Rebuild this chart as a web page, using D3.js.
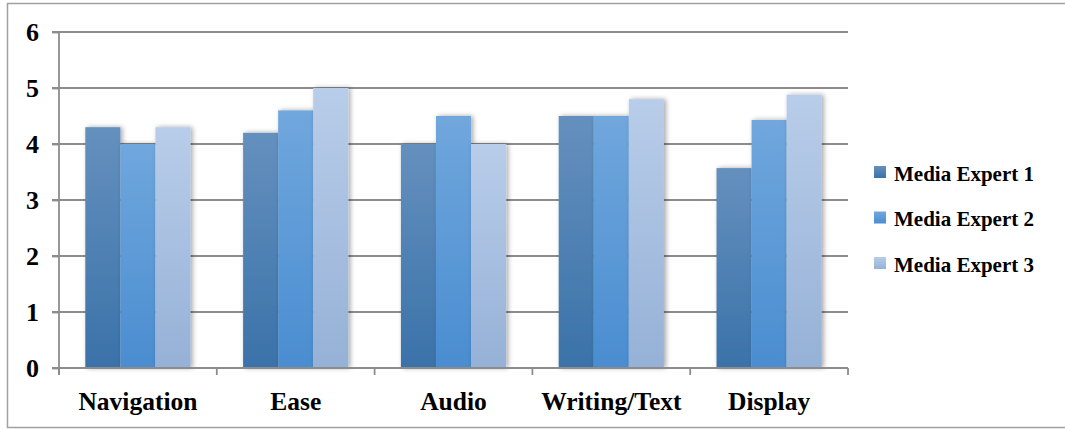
<!DOCTYPE html>
<html><head><meta charset="utf-8">
<script src="https://cdn.jsdelivr.net/npm/d3@7"></script>
<style>body{margin:0;background:#fff}svg{display:block}</style>
</head><body>
<script>
const categories = ["Navigation", "Ease", "Audio", "Writing/Text", "Display"];
const seriesNames = ["Media Expert 1", "Media Expert 2", "Media Expert 3"];
const expert1 = [4.3, 4.2, 4.0, 4.5, 3.57];
const expert2 = [4.0, 4.6, 4.5, 4.5, 4.43];
const expert3 = [4.3, 5.0, 4.0, 4.8, 4.88];
const yTicks = [0, 1, 2, 3, 4, 5, 6];

const series = [expert1, expert2, expert3];
const W = 1065, H = 429;
const FONT = "'Liberation Serif', 'Times New Roman', serif";
const svg = d3.select("body").append("svg").attr("width", W).attr("height", H);
const defs = svg.append("defs");
const grads = [["#6590be", "#3a72a9"], ["#70a7dd", "#4a8dd0"], ["#b8cde9", "#96b1d7"]];
grads.forEach((g, i) => {
  const lg = defs.append("linearGradient").attr("id", "g" + i).attr("x1", 0).attr("y1", 0).attr("x2", 0).attr("y2", 1);
  lg.append("stop").attr("offset", 0).attr("stop-color", g[0]);
  lg.append("stop").attr("offset", 1).attr("stop-color", g[1]);
});
const f = defs.append("filter").attr("id", "sh").attr("x", "-30%").attr("y", "-10%").attr("width", "160%").attr("height", "120%");
f.append("feDropShadow").attr("dx", 2).attr("dy", 0).attr("stdDeviation", 2.5).attr("flood-color", "#000").attr("flood-opacity", 0.35);

// outer border
svg.append("rect").attr("x", 7.5).attr("y", 3.5).attr("width", W + 10).attr("height", 424)
  .attr("fill", "none").attr("stroke", "#a0a0a0").attr("stroke-width", 1.5);

const pL = 59, pR = 848, pT = 32, pB = 368;
const x = d3.scaleBand().domain(categories).range([pL, pR]).paddingInner(0).paddingOuter(0);
const y = d3.scaleLinear().domain([0, 6]).range([pB, pT]);
const xs = d3.scaleBand().domain(seriesNames).range([0, x.bandwidth()]).paddingInner(0).paddingOuter(0.75);

// gridlines
svg.append("g").selectAll("line").data(yTicks.filter(t => t > 0)).join("line")
  .attr("x1", pL - 7).attr("x2", pR).attr("y1", d => y(d)).attr("y2", d => y(d))
  .attr("stroke", "#8c8c8c").attr("stroke-width", 1.8);

// bars
const gBars = svg.append("g");
categories.forEach((c, ci) => {
  series.forEach((s, si) => {
    gBars.append("rect")
      .attr("x", x(c) + xs(seriesNames[si]))
      .attr("y", y(s[ci]))
      .attr("width", xs.bandwidth())
      .attr("height", y(0) - y(s[ci]))
      .attr("fill", `url(#g${si})`)
      .attr("filter", "url(#sh)");
  });
});

// axes
const ya = svg.append("g").attr("transform", `translate(${pL},0)`)
  .call(d3.axisLeft(y).tickValues(yTicks).tickSize(7).tickPadding(13).tickFormat(d3.format("d")));
ya.select(".domain").attr("stroke", "#8c8c8c").attr("stroke-width", 1.8).attr("d", `M0,${pT}V${pB + 7}`);
ya.selectAll(".tick line").attr("stroke", "#8c8c8c").attr("stroke-width", 1.8);
ya.selectAll("text").attr("font-family", FONT).attr("font-weight", "bold").attr("font-size", 26).attr("fill", "#000");

const xa = svg.append("g").attr("transform", `translate(0,${pB})`)
  .call(d3.axisBottom(x).tickSize(0).tickPadding(24));
xa.select(".domain").remove();
xa.selectAll("text").attr("font-family", FONT).attr("font-weight", "bold").attr("font-size", 25.5).attr("fill", "#000");
const bounds = d3.range(categories.length + 1).map(i => pL + i * x.step());
xa.append("line").attr("x1", pL - 7).attr("x2", pR).attr("y1", 0).attr("y2", 0).attr("stroke", "#8c8c8c").attr("stroke-width", 1.8);
xa.selectAll(".bt").data(bounds).join("line").attr("class", "bt")
  .attr("x1", d => d).attr("x2", d => d).attr("y1", 0).attr("y2", 7).attr("stroke", "#8c8c8c").attr("stroke-width", 1.8);

// legend
const lgG = svg.append("g");
seriesNames.forEach((n, i) => {
  const ly = 172 + i * 45.5;
  lgG.append("rect").attr("x", 874).attr("y", ly - 6).attr("width", 12).attr("height", 12).attr("fill", `url(#g${i})`);
  lgG.append("text").attr("x", 894).attr("y", ly + 8.5)
    .attr("font-family", FONT).attr("font-weight", "bold").attr("font-size", 21).attr("fill", "#000").text(n);
});
</script>
</body></html>
